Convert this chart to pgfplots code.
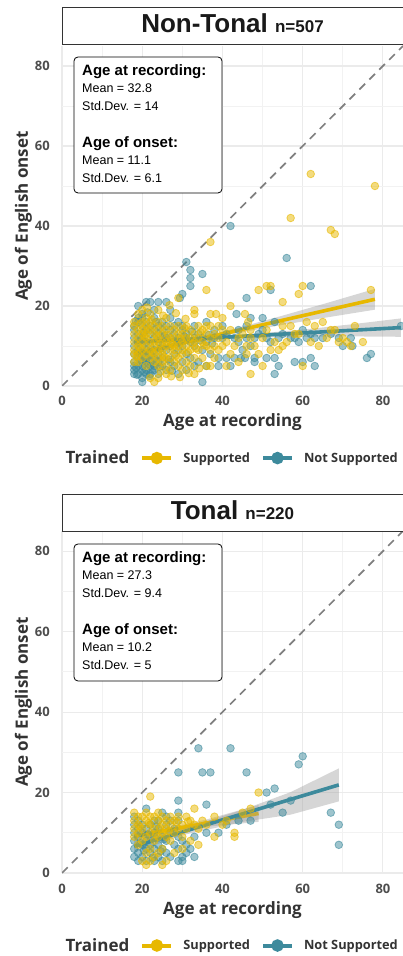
\documentclass[border=0pt]{standalone}
\usepackage{fontspec}
\setmainfont{Liberation Sans}
\newfontfamily\inter{Open Sans}
\usepackage{pgfplots}
\pgfplotsset{compat=1.18}
\usepackage{pgfplotstable}
\definecolor{sup}{HTML}{E7B800}
\definecolor{nsup}{HTML}{3D8A9C}
\definecolor{gridmaj}{HTML}{EBEBEB}
\definecolor{gridmin}{HTML}{F2F2F2}
\definecolor{tickcol}{HTML}{4D4D4D}
\definecolor{labcol}{HTML}{333333}
\definecolor{diag}{HTML}{7F7F7F}
\definecolor{band}{HTML}{999999}
\newcommand\fs[1]{\fontsize{#1}{#1}\selectfont}

% Non-Tonal, Not Supported
\pgfplotstableread{
x y
42 40
31 31
32 29
35 28
32 27
56 32
32 25
30 23
29.4 22
46 22
62 25
52 24
50 17
53 16
47 17
43.5 18
84.5 15
60 14
62 13
69 12
72 12
59 11
70 10
72.4 10
76 7
77 8
58 6
60 6
62 7
63 5
53 7
54 5
53 3
48 7
51 7
35 1
20 1
39 5
42 5
39 7
41 7
43 7
44.6 7
45.6 7
48 6
45 9
47 10
21 21
22 21
24 21
26 21
19 20
20 18
23 19
27 19
25 12
27 12
29 12
31 12
33 12
35 12
36 11
38 12
40 12
41 13
43 12
44 11
46 12
48 12
49 13
51 12
52 11
54 12
55 13
57 12
58 12
61 12
63 12
65 12
67 13
38 14
40 15
44 14
46 15
50 14
30 14
33 15
36 16
18 3
18 4
18 5
18 6
18 8
18 10
18 12
18 14
18 15
19 3
19 5
19 7
19 9
19 11
19 13
19 16
19 17
20 2
20 4
20 5
20 6
20 8
20 10
20 12
20 15
20 17
21 3
21 4
21 6
21 7
21 9
21 11
21 14
21 16
22 3
22 5
22 6
22 8
22 10
22 13
22 15
23 4
23 5
23 7
23 9
23 12
23 14
23 17
24 3
24 6
24 8
24 11
24 13
24 15
25 5
25 7
25 10
25 14
25 16
26 4
26 9
26 12
26 15
27 6
27 10
27 14
27 17
28 5
28 8
28 13
28 15
29 3
29 9
29 11
29 16
30 6
30 10
30 15
31 4
31 8
31 13
32 7
32 11
33 5
33 10
34 6
34 13
35 9
36 5
37 8
18.5 4.5
19.5 6.5
20.5 3.5
21.5 5.5
22.5 4.2
23.5 6.2
19.2 8.3
20.7 7.2
21.8 2.5
18.7 2.8
22.2 7.6
24.4 4.8
19.8 11.6
20.4 13.4
18.4 16.2
21.3 18.4
23.4 16.0
25.6 12.6
24.6 9.4
26.6 6.6
27.4 3.8
28.6 11.2
30.4 12.4
32.4 13.6
34.4 11.4
36.6 12.8
37.4 10.6
}\ntns

% Non-Tonal, Supported
\pgfplotstableread{
x y
62 53
78 50
57 42
67 39
68 38
37 36
36 24
29 22
49 24
51 25
52 25
55 21
59 23
60 25
77 24
42 20
45.6 18
46.4 16
37 18
38.4 18
40 17
33 18
33 19
55 15
63 15
67 14
68 14
73 15
66 12
56 11
54 9
64 10
71 11
72 10
60 5
50 5
47 3
23 1
33 3
36 5
37 5
41 5
44 6
46 8
43 10
48 10
50 12
52 9
39 9
41 11
45 13
47 14
38 13
58 13
61 16
69 11
75 11
36 15
37 9
38 7
39 15
40 10
42 8
42 14
44 12
46 10
47 12
49 8
51 14
53 11
55 10
57 15
59 13
62 11
65 16
70 12
18 6
18 8
18 9
18 11
18 13
18 15
18 16
19 6
19 8
19 10
19 12
19 14
19 18
20 7
20 9
20 11
20 13
20 14
20 16
20 19
21 5
21 8
21 10
21 12
21 13
21 15
21 17
22 2
22 7
22 9
22 11
22 14
22 16
22 18
23 6
23 8
23 10
23 11
23 13
23 15
24 2
24 5
24 7
24 9
24 12
24 14
24 16
24 19
25 6
25 8
25 9
25 11
25 13
25 15
26 3
26 5
26 7
26 10
26 11
26 14
26 17
27 4
27 7
27 9
27 11
27 12
27 15
28 6
28 9
28 10
28 12
28 14
29 5
29 7
29 10
29 13
29 15
30 4
30 8
30 9
30 11
30 13
31 6
31 10
31 12
31 15
32 5
32 9
32 12
32 14
33 7
33 11
33 13
34 9
34 12
34 15
35 7
35 11
35 14
36 10
36 13
37 12
37 15
38 10
39 12
40 14
18.6 7.4
19.4 9.6
20.6 12.4
21.4 14.2
22.6 8.4
23.6 12.6
24.4 10.6
25.4 7.2
26.4 12.8
27.6 10.4
28.4 7.6
29.6 11.8
30.6 14.4
31.4 8.4
32.6 10.6
33.4 9.4
34.6 13.4
35.4 10.2
19.6 15.6
22.4 16.6
25.2 17.6
28.4 18.2
30.8 16.8
26.8 20.2
21.2 19.6
24.6 3.6
27.2 2.4
29.4 2.2
31.6 3.2
34.2 4.4
}\ntsu

% Tonal, Not Supported
\pgfplotstableread{
x y
34 31
42 31
35 25
37 25
29 25
46 25
59 27
60 29
29 18
51 20
53 21
52 17
55 15
57 18
36 17
67 15
69 12
69 7
41 12
39 10
29 15
29 13
25 15
21 16
18 14
18 12
18 10
18 8
18 6
18 4
19 3
19 5
19 9
19 11
19 13
20 4
20 7
20 10
20 12
21 3
21 6
21 8
21 11
22 5
22 7
22 9
22 12
23 3
23 6
23 9
23 10
23 13
24 4
24 7
24 11
24 13
25 3
25 6
25 9
26 5
26 8
26 12
27 4
27 10
28 7
28 11
29 3
29 6
29 9
30 3
30 4
30 8
31 5
31 7
32 6
33 4
33 9
27 13
26 14
47 13
44 13
36 10
19.6 7.4
21.4 9.6
22.6 3.8
23.4 11.6
24.6 5.4
20.4 5.6
25.4 8.4
}\tns

% Tonal, Supported
\pgfplotstableread{
x y
22 19
33 16
49 20
47 16
45 15
38 14
38 9
43 10
43 9
41 13
40 12
36 12
35 13
34 11
33 12
32 13
31 14
31 11
30 12
30 9
29 11
29 14
28 13
28 10
27 12
27 14
27 8
26 11
26 13
26 9
25 12
25 14
25 10
25 6
24 13
24 15
24 9
24 5
23 11
23 14
23 8
23 4
22 12
22 14
22 10
22 6
21 13
21 15
21 9
21 5
20 11
20 14
20 8
20 3
19 12
19 14
19 7
19 10
18 11
18 13
18 15
18 9
22 3
25 2
21 2
30 6
32 8
34 7
28 5
26 3
19.4 11.6
21.6 12.4
23.4 9.6
26.6 10.4
28.6 12.6
31.4 12.8
24.4 11.2
}\tsu

\pgfplotsset{
  panel/.style={
    scale only axis, width=341bp,
    xmin=0, xmax=85, ymin=0, ymax=85,
    axis line style={draw=none},
    major tick length=0pt, minor tick length=0pt,
    xtick={0,20,40,60,80}, ytick={0,20,40,60,80},
    minor xtick={10,30,50,70}, minor ytick={10,30,50,70},
    grid=both,
    major grid style={gridmaj, line width=1.1bp},
    minor grid style={gridmin, line width=0.7bp},
    /pgf/number format/assume math mode=true,
    tick label style={font=\inter\bfseries\fs{13bp}, text=tickcol, inner sep=0pt},
    xticklabel style={anchor=base, yshift=-20bp},
    yticklabel style={anchor=east, xshift=-12bp},
    xlabel={Age at recording}, ylabel={Age of English onset},
    label style={font=\inter\bfseries\fs{17bp}, text=labcol, inner sep=0pt},
    xlabel style={at={(axis description cs:0.5,0)}, anchor=base, yshift=-41bp},
    ylabel style={at={(axis description cs:-0.1, 0.5)}, anchor=base},
    legend style={at={(axis description cs:0.483,-0.212)}, anchor=center,
      draw=none, fill=none, legend columns=-1, inner sep=0pt,
      font=\inter\bfseries\fs{12.8bp}, text=labcol, nodes={inner sep=0pt},
      /tikz/every even column/.append style={column sep=11bp},
      /tikz/every odd column/.append style={column sep=10bp}},
  },
  pts/.style={only marks, mark=*, mark size=3.8bp, forget plot,
    mark options={draw=#1, fill=#1, fill opacity=0.5, draw opacity=0.6, line width=0.8bp}},
  fit/.style={draw=#1, line width=3.6bp,
    legend image code/.code={\draw[#1, line width=4bp] (0bp,0bp) -- (29bp,0bp);
      \fill[#1] (14.5bp,0bp) circle (4.4bp);}},
  rib/.style={fill=band, fill opacity=0.4, draw=none, forget plot},
}

\begin{document}
\begin{tikzpicture}
\path[use as bounding box] (0,0) rectangle (403bp,956bp);

% ---------- Non-Tonal ----------
\begin{axis}[panel, at={(62bp,570bp)}, anchor=south west, height=340bp]
\addlegendimage{empty legend}
\addlegendentry[font=\inter\bfseries\fs{17bp}]{Trained}
\addplot[diag, line width=1.7bp, dash pattern=on 8bp off 6bp, forget plot] coordinates {(0,0) (85,85)};
\addplot[pts=nsup] table[x=x,y=y] {\ntns};
\addplot[pts=sup] table[x=x,y=y] {\ntsu};
\addplot[rib] coordinates {(18,7.3) (30,10.29) (42,12.87) (54,15.11) (66,17.14) (78,19.08) (78,24.28) (66,20.74) (54,17.31) (42,14.07) (30,11.19) (18,8.7)} -- cycle;
\addplot[fit=sup] coordinates {(18,8.0) (78,21.68)};
\addlegendentry{Supported}
\addplot[rib] coordinates {(18,10.35) (30,11.25) (45,12.0) (60,12.3) (72,12.4) (84.5,12.3) (84.5,16.9) (72,15.4) (60,14.1) (45,12.8) (30,11.95) (18,11.55)} -- cycle;
\addplot[fit=nsup] coordinates {(18,10.95) (84.5,14.6)};
\addlegendentry{Not Supported}
\end{axis}

% ---------- Tonal ----------
\begin{axis}[panel, at={(62bp,83bp)}, anchor=south west, height=342bp]
\addlegendimage{empty legend}
\addlegendentry[font=\inter\bfseries\fs{17bp}]{Trained}
\addplot[diag, line width=1.7bp, dash pattern=on 8bp off 6bp, forget plot] coordinates {(0,0) (85,85)};
\addplot[pts=nsup] table[x=x,y=y] {\tns};
\addplot[pts=sup] table[x=x,y=y] {\tsu};
\addplot[rib] coordinates {(18,8.1) (27,10.15) (36,11.5) (49,12.7) (49,16.9) (36,13.3) (27,11.35) (18,10.1)} -- cycle;
\addplot[fit=sup] coordinates {(18,9.1) (49,14.8)};
\addlegendentry{Supported}
\addplot[rib] coordinates {(18,5.1) (30,9.4) (45,12.7) (57,14.5) (69,17.8) (69,26.0) (57,20.1) (45,15.7) (30,11.0) (18,8.1)} -- cycle;
\addplot[fit=nsup] coordinates {(18,6.6) (69,21.9)};
\addlegendentry{Not Supported}
\end{axis}

% ---------- strips ----------
\draw[labcol, line width=1bp] (62bp,911bp) rectangle (406bp,948bp);
\node[anchor=base, inner sep=0pt, text=black!90] at (232.5bp,923.3bp) {\bfseries\fs{26bp}Non-Tonal \fs{17bp}n=507};
\draw[labcol, line width=1bp] (62bp,424.5bp) rectangle (406bp,461bp);
\node[anchor=base, inner sep=0pt, text=black!90] at (232.5bp,436.7bp) {\bfseries\fs{26bp}Tonal \fs{17bp}n=220};

% ---------- annotation boxes ----------
\draw[black, line width=0.8bp, rounded corners=4bp, fill=white] (74bp,899bp) rectangle (222bp,763bp);
\node[anchor=base west, inner sep=0pt] at (82bp,880bp) {\bfseries\fs{15bp}Age at recording:};
\node[anchor=base west, inner sep=0pt] at (82bp,863.5bp) {\fs{12.5bp}Mean = 32.8};
\node[anchor=base west, inner sep=0pt] at (82bp,845.3bp) {\fs{12.5bp}Std.Dev. = 14};
\node[anchor=base west, inner sep=0pt] at (82bp,808.3bp) {\bfseries\fs{15bp}Age of onset:};
\node[anchor=base west, inner sep=0pt] at (82bp,791bp) {\fs{12.5bp}Mean = 11.1};
\node[anchor=base west, inner sep=0pt] at (82bp,773.3bp) {\fs{12.5bp}Std.Dev. = 6.1};

\draw[black, line width=0.8bp, rounded corners=4bp, fill=white] (74bp,412bp) rectangle (222bp,275bp);
\node[anchor=base west, inner sep=0pt] at (82bp,393bp) {\bfseries\fs{15bp}Age at recording:};
\node[anchor=base west, inner sep=0pt] at (82bp,376.5bp) {\fs{12.5bp}Mean = 27.3};
\node[anchor=base west, inner sep=0pt] at (82bp,358.3bp) {\fs{12.5bp}Std.Dev. = 9.4};
\node[anchor=base west, inner sep=0pt] at (82bp,321.3bp) {\bfseries\fs{15bp}Age of onset:};
\node[anchor=base west, inner sep=0pt] at (82bp,304bp) {\fs{12.5bp}Mean = 10.2};
\node[anchor=base west, inner sep=0pt] at (82bp,286.3bp) {\fs{12.5bp}Std.Dev. = 5};
\end{tikzpicture}
\end{document}
